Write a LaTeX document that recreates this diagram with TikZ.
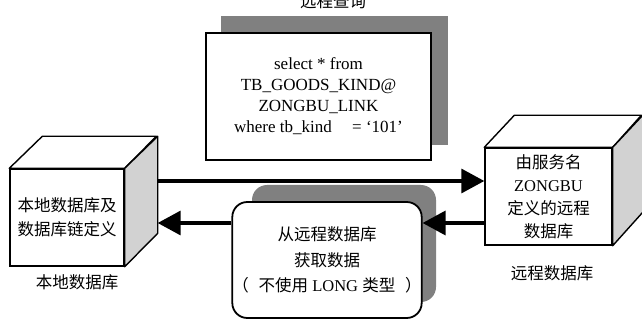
\documentclass[tikz,border=0pt]{standalone}
\usepackage{fontspec}
\setmainfont{Liberation Serif}
\newfontfamily\cjk{Noto Sans CJK SC}
\usetikzlibrary{arrows.meta,calc}
\definecolor{shadowgray}{RGB}{128,128,128}
\definecolor{sidegray}{RGB}{210,210,210}
\tikzset{
  cubefront/.style={draw, line width=1.4pt, fill=white, inner sep=0pt, align=center},
  cubeface/.style={draw, line width=1.4pt, line join=round},
  qbox/.style={draw, line width=1.8pt, fill=white, inner sep=0pt, align=center,
    font=\fontsize{17}{21}\selectfont},
  rbox/.style={draw, line width=1.8pt, fill=white, rounded corners=15pt, inner sep=0pt, align=center,
    font=\fontsize{16.5}{25.5}\selectfont},
  shadowbox/.style={fill=shadowgray, draw=none, inner sep=0pt},
  cjktxt/.style={font=\cjk\fontsize{16.5}{24}\selectfont},
  bigarrow/.style={line width=3.4pt, -{Triangle[length=23pt,width=24pt]}},
}
\begin{document}
\begin{tikzpicture}[x=1pt,y=-1pt]
\useasboundingbox (0,0) rectangle (642,320);

% title
\node[cjktxt] (title) at (333,1.5) {远程查询};

% query box with shadow
\node[shadowbox, minimum width=227pt, minimum height=129pt] (qshadow) at (334.5,80.5) {};
\node[qbox, minimum width=225pt, minimum height=127pt] (query) at (318.5,96.5)
  {select * from\\TB\_GOODS\_KIND@\\ZONGBU\_LINK\\where tb\_kind\hspace{1.2em}= ‘101’};

% left cube
\node[cubefront, minimum width=114pt, minimum height=97pt, font=\cjk\fontsize{16.5}{24}\selectfont] (lcube) at (67,217.5)
  {本地数据库及\\数据库链定义};
\filldraw[cubeface, fill=white] (lcube.north west) -- ++(33,-32) -- ++(114,0) -- (lcube.north east) -- cycle;
\filldraw[cubeface, fill=sidegray] (lcube.north east) -- ++(33,-32) -- ++(0,97) -- (lcube.south east) -- cycle;
\coordinate (lside) at ($(lcube.east)+(33,0)$);
\node[cjktxt] (llabel) at (77,282) {本地数据库};

% right cube
\node[cubefront, minimum width=127pt, minimum height=97pt, font=\fontsize{16.5}{23}\selectfont] (rcube) at (548.5,196.5)
  {{\cjk 由服务名}\\ZONGBU\\{\cjk 定义的远程}\\{\cjk 数据库}};
\filldraw[cubeface, fill=white] (rcube.north west) -- ++(30,-32) -- ++(127,0) -- (rcube.north east) -- cycle;
\filldraw[cubeface, fill=sidegray] (rcube.north east) -- ++(30,-32) -- ++(0,97) -- (rcube.south east) -- cycle;
\node[cjktxt] (rlabel) at (552,273) {远程数据库};

% rounded box with shadow
\node[shadowbox, rounded corners=15pt, minimum width=184pt, minimum height=117pt] (rshadow) at (344,243.5) {};
\node[rbox, minimum width=186pt, minimum height=116pt] (fetch) at (327,260)
  {{\cjk 从远程数据库}\\{\cjk 获取数据}\\{\cjk （\hspace{0.6em}不使用} LONG {\cjk 类型\hspace{0.6em}）}};

% arrows
\coordinate (ytop) at (0,181);
\coordinate (ybot) at (0,223);
\draw[bigarrow] (lside |- ytop) -- (rcube.west |- ytop);
\draw[bigarrow] (rcube.west |- ybot) -- (fetch.east |- ybot);
\draw[bigarrow] (fetch.west |- ybot) -- (lside |- ybot);
\end{tikzpicture}
\end{document}
